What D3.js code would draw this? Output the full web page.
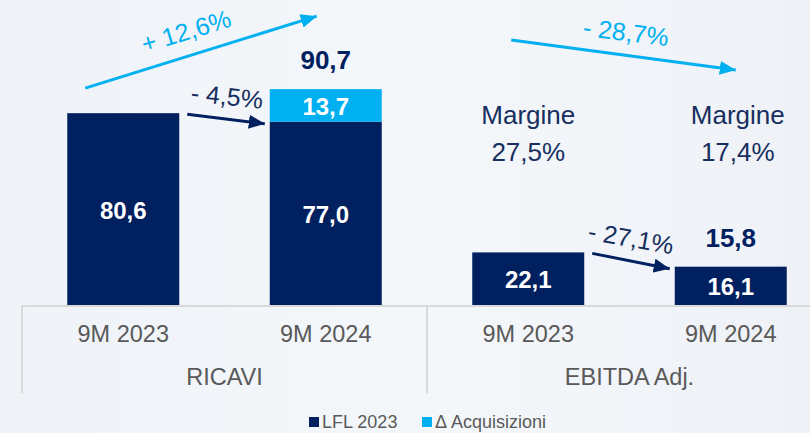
<!DOCTYPE html>
<html>
<head>
<meta charset="utf-8">
<script src="https://cdn.jsdelivr.net/npm/d3@7"></script>
<style>
  html, body { margin: 0; padding: 0; background: #f2f5f9; }
  svg { display: block; font-family: "Liberation Sans", Arial, sans-serif; }
</style>
</head>
<body>
<div id="chart"></div>
<script>
var width = 810;
var height = 433;

// data
var categories = ["R23", "R24", "E23", "E24"];
var periodLabels = ["9M 2023", "9M 2024", "9M 2023", "9M 2024"];
var groups = ["RICAVI", "EBITDA Adj."];
var lfl = [80.6, 77.0, 22.1, 16.1];
var acquisizioni = [0, 13.7, 0, 0];
var totals = [null, 90.7, null, 15.8];
var margini = ["27,5%", "17,4%"];
var growthTotal = ["+ 12,6%", "- 28,7%"];
var growthLfl = ["- 4,5%", "- 27,1%"];
var legendLabels = ["LFL 2023", "\u0394 Acquisizioni"];

var navy = "#002060";
var cyan = "#00b0f0";
var textNavy = "#172f5f";
var grey = "#595959";
var fmt = v => d3.format(".1f")(v).replace(".", ",");

var svg = d3.select("#chart").append("svg")
    .attr("width", width)
    .attr("height", height);

var defs = svg.append("defs");
var bg = defs.append("linearGradient")
    .attr("id", "bg").attr("x1", 0).attr("x2", 1).attr("y1", 0).attr("y2", 0);
bg.append("stop").attr("offset", "0%").attr("stop-color", "#eff3f8");
bg.append("stop").attr("offset", "55%").attr("stop-color", "#f4f7fa");
bg.append("stop").attr("offset", "100%").attr("stop-color", "#eef1f6");
svg.append("rect").attr("width", width).attr("height", height).attr("fill", "url(#bg)");

var x = d3.scaleBand()
    .domain(categories)
    .range([22, 832])
    .paddingInner(0.447)
    .paddingOuter(0.2235);
var bw = x.bandwidth();
var cx = i => x(categories[i]) + bw / 2;

var y = d3.scaleLinear().domain([0, 100]).range([305, 67]);

// arrow markers
[["headCyan", cyan], ["headNavy", navy]].forEach(function (m) {
    defs.append("marker")
        .attr("id", m[0])
        .attr("markerUnits", "userSpaceOnUse")
        .attr("viewBox", "0 0 16 14")
        .attr("refX", 16).attr("refY", 7)
        .attr("markerWidth", 16).attr("markerHeight", 14)
        .attr("orient", "auto")
        .append("path").attr("d", "M0,0L16,7L0,14Z").attr("fill", m[1]);
});

// axis & separators
svg.append("line")
    .attr("x1", 22).attr("x2", width)
    .attr("y1", y(0) + 1).attr("y2", y(0) + 1)
    .attr("stroke", "#d9d9d9").attr("stroke-width", 2);
var separators = [22, (x(categories[1]) + bw + x(categories[2])) / 2];
separators.forEach(function (sx) {
    svg.append("line")
        .attr("x1", sx).attr("x2", sx)
        .attr("y1", y(0)).attr("y2", 393)
        .attr("stroke", "#d9d9d9").attr("stroke-width", 2);
});

// bars
svg.selectAll(".lfl").data(lfl).enter().append("rect")
    .attr("class", "lfl")
    .attr("x", (d, i) => x(categories[i]))
    .attr("width", bw)
    .attr("y", d => y(d))
    .attr("height", d => y(0) - y(d))
    .attr("fill", navy);

svg.selectAll(".acq").data(acquisizioni).enter().append("rect")
    .attr("class", "acq")
    .attr("x", (d, i) => x(categories[i]))
    .attr("width", bw)
    .attr("y", (d, i) => y(lfl[i] + d))
    .attr("height", (d, i) => y(lfl[i]) - y(lfl[i] + d))
    .attr("fill", cyan);

// value labels
var label = svg.append("g")
    .attr("font-weight", "bold")
    .attr("text-anchor", "middle")
    .attr("dominant-baseline", "central");

lfl.forEach(function (d, i) {
    label.append("text")
        .attr("x", cx(i)).attr("y", (y(0) + y(d)) / 2 + 1)
        .attr("fill", "#ffffff").attr("font-size", 24)
        .text(fmt(d));
    if (acquisizioni[i] > 0) {
        label.append("text")
            .attr("x", cx(i)).attr("y", (y(d) + y(d + acquisizioni[i])) / 2 + 1)
            .attr("fill", "#ffffff").attr("font-size", 24)
            .text(fmt(acquisizioni[i]));
    }
    if (totals[i] !== null) {
        var top = y(d + acquisizioni[i]);
        label.append("text")
            .attr("x", cx(i)).attr("y", top - 29)
            .attr("fill", navy).attr("font-size", 26)
            .text(fmt(totals[i]));
    }
});

// period and group labels
svg.selectAll(".period").data(periodLabels).enter().append("text")
    .attr("class", "period")
    .attr("x", (d, i) => cx(i))
    .attr("y", 334)
    .attr("text-anchor", "middle").attr("dominant-baseline", "central")
    .attr("font-size", 23.5).attr("fill", grey)
    .text(d => d);

svg.selectAll(".group").data(groups).enter().append("text")
    .attr("class", "group")
    .attr("x", (d, i) => (cx(i * 2) + cx(i * 2 + 1)) / 2)
    .attr("y", 377)
    .attr("text-anchor", "middle").attr("dominant-baseline", "central")
    .attr("font-size", 23.5).attr("fill", grey)
    .text(d => d);

// margins
margini.forEach(function (m, i) {
    var mx = cx(2 + i) + i * 7;
    svg.append("text").attr("x", mx).attr("y", 115)
        .attr("text-anchor", "middle").attr("dominant-baseline", "central")
        .attr("font-size", 26).attr("fill", textNavy).text("Margine");
    svg.append("text").attr("x", mx).attr("y", 152)
        .attr("text-anchor", "middle").attr("dominant-baseline", "central")
        .attr("font-size", 26).attr("fill", textNavy).text(m);
});

// growth arrows
function arrow(x1, y1, x2, y2, color, marker) {
    svg.append("line")
        .attr("x1", x1).attr("y1", y1).attr("x2", x2).attr("y2", y2)
        .attr("stroke", color).attr("stroke-width", 3)
        .attr("marker-end", "url(#" + marker + ")");
}
function note(tx, ty, rot, txt, color) {
    svg.append("text")
        .attr("transform", "translate(" + tx + "," + ty + ") rotate(" + rot + ")")
        .attr("text-anchor", "middle").attr("dominant-baseline", "central")
        .attr("font-size", 25).attr("fill", color)
        .text(txt);
}

// RICAVI total
arrow(x(categories[0]) + 18, y(lfl[0]) - 25, x(categories[1]) + 47, y(totals[1]) - 73, cyan, "headCyan");
note(186, 31, -17, growthTotal[0], cyan);
// RICAVI lfl
arrow(x(categories[0]) + bw + 8, y(lfl[0]) + 1, x(categories[1]) - 5, y(lfl[1]) + 2, navy, "headNavy");
note(227, 96, 6, growthLfl[0], textNavy);
// EBITDA total
arrow(x(categories[2]) + 39, 40, x(categories[3]) + 61, 70, cyan, "headCyan");
note(626, 32, 7, growthTotal[1], cyan);
// EBITDA lfl
arrow(x(categories[2]) + bw + 8, y(lfl[2]) + 1, x(categories[3]) - 5, y(lfl[3]) + 2, navy, "headNavy");
note(631, 238, 10, growthLfl[1], textNavy);

// legend
var legend = svg.append("g").attr("font-size", 18).attr("fill", grey);
var legendX = [309, 422];
[navy, cyan].forEach(function (c, i) {
    legend.append("rect")
        .attr("x", legendX[i]).attr("y", 417)
        .attr("width", 10).attr("height", 10)
        .attr("fill", c);
    legend.append("text")
        .attr("x", legendX[i] + 13).attr("y", 422)
        .attr("dominant-baseline", "central")
        .text(legendLabels[i]);
});
</script>
</body>
</html>
